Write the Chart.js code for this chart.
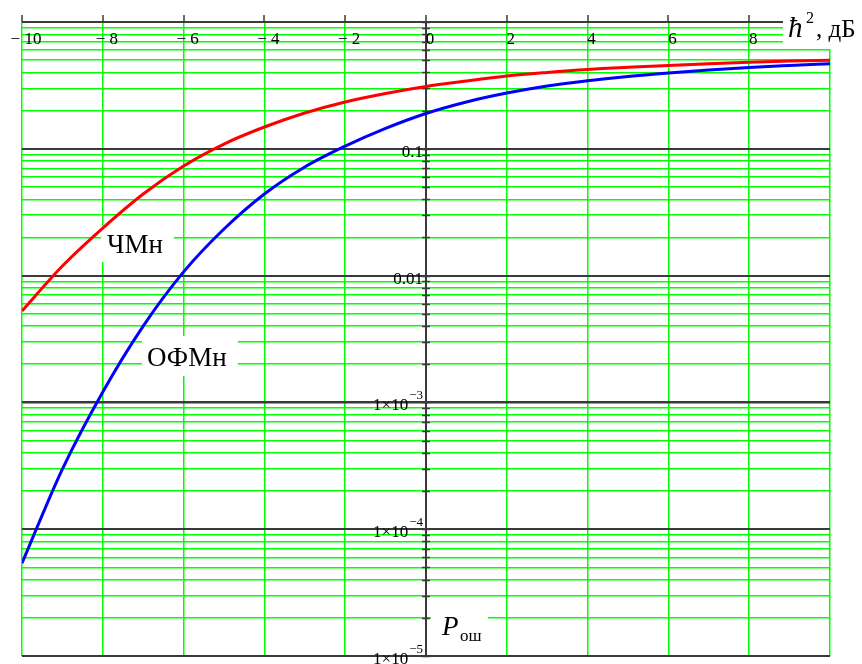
<!DOCTYPE html>
<html>
<head>
<meta charset="utf-8">
<script src="https://cdn.jsdelivr.net/npm/chart.js@4.4.0/dist/chart.umd.min.js"></script>
<style>
  html, body { margin: 0; padding: 0; background: #fff; }
  #wrap { width: 862px; height: 664px; }
</style>
</head>
<body>
<div id="wrap"><canvas id="chart" width="862" height="664"></canvas></div>
<script>
// h^2, dB
const hdB = [-10, -9, -8, -7, -6, -5, -4, -3, -2, -1, 0, 1, 2, 3, 4, 5, 6, 7, 8, 9, 10];
// error probability, noncoherent FSK (ЧМн)
const pChm = [0.00526, 0.0119, 0.0237, 0.0440, 0.0732, 0.109, 0.1485, 0.1915, 0.234, 0.273, 0.310,
              0.342, 0.375, 0.400, 0.422, 0.439, 0.454, 0.468, 0.481, 0.493, 0.500];
// error probability, differential PSK (ОФМн)
const pOfm = [5.4e-5, 2.98e-4, 1.21e-3, 4.0e-3, 0.0107, 0.0233, 0.0440, 0.0719, 0.105, 0.145, 0.190,
              0.234, 0.275, 0.313, 0.344, 0.372, 0.396, 0.418, 0.438, 0.454, 0.469];

const xTicks = [-10, -8, -6, -4, -2, 0, 2, 4, 6, 8, 10];
const xTickLabels = ['− 10', '− 8', '− 6', '− 4', '− 2', '0', '2', '4', '6', '8', ''];

const yDecades = [0.1, 0.01, 1e-3, 1e-4, 1e-5];
const yLabelBase = ['0.1', '0.01', '1×10', '1×10', '1×10'];
const yLabelExp = ['', '', '−3', '−4', '−5'];

// 1..9 x 10^k gridlines between 1e-5 and 1
const yTicks = [];
for (let e = -5; e < 0; e++) {
  for (let m = 1; m <= 9; m++) yTicks.push(Number((m * Math.pow(10, e)).toPrecision(3)));
}
yTicks.push(1);

const isDecade = v => Math.abs(Math.log10(v) - Math.round(Math.log10(v))) < 1e-9;

const GREEN = '#00ff00';
const DARK = '#3a3a3a';
const SERIF = '"Liberation Serif", "Times New Roman", serif';

function seg(ctx, x1, y1, x2, y2) {
  ctx.beginPath(); ctx.moveTo(x1, y1); ctx.lineTo(x2, y2); ctx.stroke();
}

function box(ctx, x, y, w, h) {
  ctx.fillStyle = '#fff';
  ctx.fillRect(x, y, w, h);
}

const decor = {
  id: 'decor',
  beforeDatasetsDraw(chart) {
    const { ctx, chartArea: a, scales: { x, y } } = chart;
    const x0 = Math.round(x.getPixelForValue(0));
    ctx.save();

    // decade lines and the axes
    ctx.strokeStyle = DARK;
    ctx.lineWidth = 2;
    yTicks.filter(isDecade).forEach(v => {
      const py = Math.round(y.getPixelForValue(v));
      seg(ctx, a.left, py, a.right, py);
    });
    seg(ctx, x0, a.top, x0, a.bottom);

    // tick marks on the top axis
    ctx.lineWidth = 1.5;
    xTicks.forEach(v => {
      const px = Math.round(x.getPixelForValue(v));
      seg(ctx, px, a.top - 7, px, a.top);
    });
    // tick marks on the vertical axis
    yTicks.forEach(v => {
      const py = Math.round(y.getPixelForValue(v)) + 0.5;
      seg(ctx, x0 - 4, py, x0 + 4, py);
    });

    // x labels
    ctx.fillStyle = '#000';
    ctx.font = '17px ' + SERIF;
    ctx.textAlign = 'center';
    ctx.textBaseline = 'alphabetic';
    xTicks.forEach((v, i) => {
      ctx.fillText(xTickLabels[i], x.getPixelForValue(v) + 4, a.top + 22);
    });

    // y labels
    yDecades.forEach((v, i) => {
      const py = y.getPixelForValue(v);
      let right = x0 - 3;
      ctx.textAlign = 'right';
      if (yLabelExp[i]) {
        ctx.font = '13px ' + SERIF;
        ctx.fillText(yLabelExp[i], right, py - 3);
        right -= ctx.measureText(yLabelExp[i]).width + 1;
      }
      ctx.font = '17px ' + SERIF;
      ctx.fillText(yLabelBase[i], right, py + 8);
    });

    // curve captions
    ctx.textAlign = 'left';
    box(ctx, 101, 226, 73, 36);
    ctx.fillStyle = '#000';
    ctx.font = '27px ' + SERIF;
    ctx.fillText('ЧМн', 107, 253);

    box(ctx, 142, 336, 96, 40);
    ctx.fillStyle = '#000';
    ctx.fillText('ОФМн', 147, 366);

    // axis titles
    box(ctx, 431, 605, 57, 40);
    ctx.fillStyle = '#000';
    ctx.font = 'italic 27px ' + SERIF;
    ctx.fillText('P', 442, 635);
    ctx.font = '17px ' + SERIF;
    ctx.fillText('ош', 460, 641);

    box(ctx, 783, 0, 79, 49);
    ctx.fillStyle = '#000';
    ctx.font = 'italic 29px ' + SERIF;
    ctx.fillText('ħ', 788, 37);
    ctx.font = '16px ' + SERIF;
    ctx.fillText('2', 806, 23);
    ctx.font = '25px ' + SERIF;
    ctx.fillText(', дБ', 816, 37);

    ctx.restore();
  }
};

new Chart(document.getElementById('chart').getContext('2d'), {
  type: 'line',
  data: {
    datasets: [{
      label: 'ЧМн',
      data: hdB.map((h, i) => ({ x: h, y: pChm[i] })),
      borderColor: '#ff0000',
      borderWidth: 3,
      pointRadius: 0,
      cubicInterpolationMode: 'monotone'
    }, {
      label: 'ОФМн',
      data: hdB.map((h, i) => ({ x: h, y: pOfm[i] })),
      borderColor: '#0000ff',
      borderWidth: 3,
      pointRadius: 0,
      cubicInterpolationMode: 'monotone'
    }]
  },
  options: {
    responsive: false,
    animation: false,
    devicePixelRatio: 1,
    layout: { padding: { left: 22, top: 22, right: 32, bottom: 8 } },
    plugins: { legend: { display: false }, tooltip: { enabled: false } },
    scales: {
      x: {
        type: 'linear', position: 'top', min: -10, max: 10,
        afterBuildTicks: s => { s.ticks = xTicks.map(v => ({ value: v })); },
        ticks: { display: false },
        border: { display: false },
        grid: { drawTicks: false, color: GREEN, lineWidth: 1.5 }
      },
      y: {
        type: 'logarithmic', min: 1e-5, max: 1,
        afterBuildTicks: s => { s.ticks = yTicks.map(v => ({ value: v })); },
        ticks: { display: false },
        border: { display: false },
        grid: {
          drawTicks: false,
          color: c => (c.tick && isDecade(c.tick.value)) ? DARK : GREEN,
          lineWidth: 1.5
        }
      }
    }
  },
  plugins: [decor]
});
</script>
</body>
</html>
